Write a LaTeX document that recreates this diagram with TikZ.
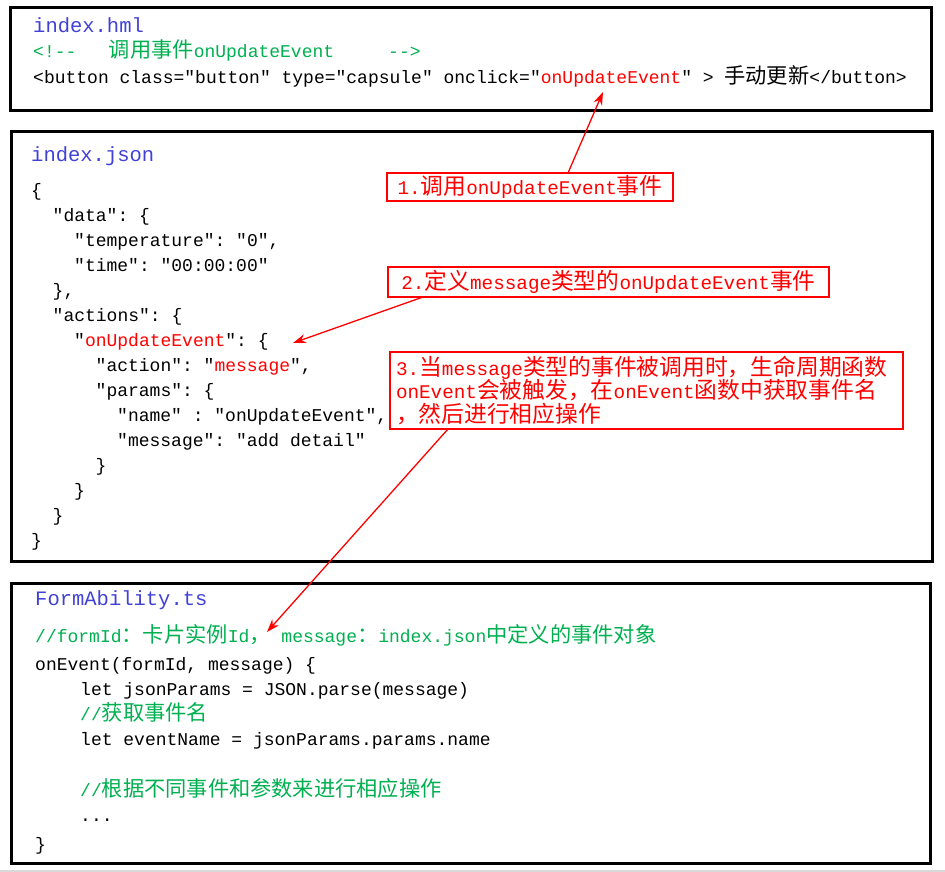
\documentclass[tikz,border=0pt]{standalone}
\usepackage{fontspec}
\usetikzlibrary{arrows.meta}

\setmonofont{Liberation Mono}
\newfontfamily\zh[Scale=1.18]{Noto Sans CJK SC}
\newcommand\codefont{\ttfamily\fontsize{18}{25}\selectfont}
\newcommand\titlefont{\ttfamily\fontsize{20.5}{28}\selectfont}
\newcommand\notefont{\ttfamily\fontsize{19.3}{23.5}\selectfont}
\newcommand\redtxt[1]{\textcolor{red}{#1}}

\definecolor{titleblue}{RGB}{65,65,215}
\definecolor{commentgreen}{RGB}{0,176,80}

\tikzset{
  codebox/.style={draw=black, line width=3pt},
  code/.style={anchor=base west, inner sep=0pt, font=\codefont},
  title/.style={code, font=\titlefont, text=titleblue},
  comment/.style={code, text=commentgreen},
  note/.style={draw=red, line width=2pt, fill=white, text=red, font=\notefont,
    inner xsep=6pt, inner ysep=0pt, outer sep=0pt, anchor=north west},
  pointer/.style={red, line width=1.3pt, -{Stealth[length=13pt,width=9pt]}},
}

\begin{document}
\begin{tikzpicture}[x=1pt, y=-1pt]
        \useasboundingbox (0,0) rectangle (945,872);
        % \draw[help lines, gray!50, very thin] (0,0) grid[step=50] (945,872);

        % index.hml
        \draw[codebox] (10,7.5) rectangle (931.5,111);
        \node[title] (hmltitle) at (33,33) {index.hml};
        \node[comment] (hmlcomment) at (33,58) {<!--\ \ \ {\zh 调用事件}onUpdateEvent\ \ \ \ \ -->};
        \node[code] (hmlbutton) at (33,84) {<button class="button" type="capsule" onclick="\redtxt{onUpdateEvent}" > {\zh 手动更新}</button>};

        % index.json
        \draw[codebox] (11,131.5) rectangle (932,561);
        \node[title] (jsontitle) at (31,161) {index.json};
        \node[code] (j1) at (31,196) {\{};
        \node[code] (j2) at (52.5,221) {"data": \{};
        \node[code] (j3) at (74,246) {"temperature": "0",};
        \node[code] (j4) at (74,271) {"time": "00:00:00"};
        \node[code] (j5) at (52.5,296) {\},};
        \node[code] (j6) at (52.5,321) {"actions": \{};
        \node[code] (j7) at (74,346) {"\redtxt{onUpdateEvent}": \{};
        \node[code] (j8) at (95.5,371) {"action": "\redtxt{message}",};
        \node[code] (j9) at (95.5,396) {"params": \{};
        \node[code] (j10) at (117,421) {"name" : "onUpdateEvent",};
        \node[code] (j11) at (117,446) {"message": "add detail"};
        \node[code] (j12) at (95.5,471) {\}};
        \node[code] (j13) at (74,496) {\}};
        \node[code] (j14) at (52.5,521) {\}};
        \node[code] (j15) at (31,546) {\}};

        % FormAbility.ts
        \draw[codebox] (11,583) rectangle (930.5,863);
        \node[title] (tstitle) at (35,605) {FormAbility.ts};
        \node[comment] (ts1) at (35,642) {//formId{\zh ：卡片实例}Id{\zh ，} message{\zh ：}index.json{\zh 中定义的事件对象}};
        \node[code] (ts2) at (35,670) {onEvent(formId, message) \{};
        \node[code] (ts3) at (80,695) {let jsonParams = JSON.parse(message)};
        \node[comment] (ts4) at (80,720) {//{\zh 获取事件名}};
        \node[code] (ts5) at (80,745) {let eventName = jsonParams.params.name};
        \node[comment] (ts6) at (80,796) {//{\zh 根据不同事件和参数来进行相应操作}};
        \node[code] (ts7) at (80,821) {...};
        \node[code] (ts8) at (35,850) {\}};

        \draw[black!15, line width=1.5pt] (0,871) -- (945,871);

        % red notes
        \node[note, minimum width=286pt, minimum height=28pt] (call1) at (387,173) {1.{\zh 调用}onUpdateEvent{\zh 事件}};
        \node[note, minimum width=441pt, minimum height=30pt] (call2) at (388,267) {2.{\zh 定义}message{\zh 类型的}onUpdateEvent{\zh 事件}};
        \node[note, text width=501pt, align=left, minimum height=77pt] (call3) at (390,352)
          {3.{\zh 当}message{\zh 类型的事件被调用时，生命周期函数}\\onEvent{\zh 会被触发，在}onEvent{\zh 函数中获取事件名}\\{\zh ，然后进行相应操作}};

        \coordinate (tip1) at (603,92);
        \coordinate (tip2) at (293,343);
        \coordinate (tip3) at (267,632);
        \draw[pointer] ([xshift=181pt]call1.north west) -- (tip1);
        \draw[pointer] ([xshift=35pt]call2.south west) -- (tip2);
        \draw[pointer] ([xshift=58pt]call3.south west) -- (tip3);
\end{tikzpicture}
\end{document}
